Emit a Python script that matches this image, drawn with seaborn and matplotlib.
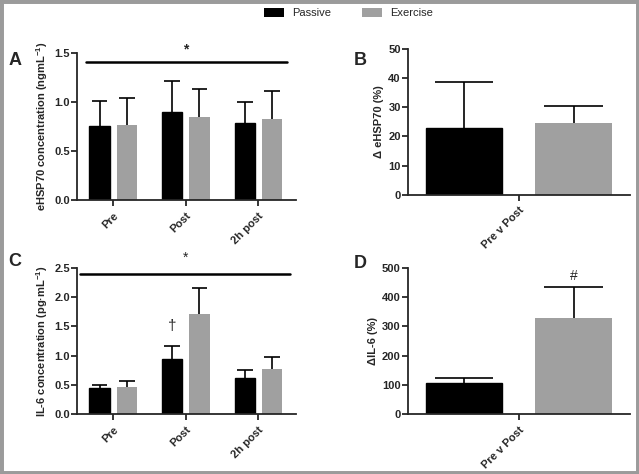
import numpy as np
import pandas as pd
import seaborn as sns
import matplotlib.pyplot as plt
import matplotlib.patches as patches
from matplotlib.patches import Patch

# Data
GROUPS = ["Passive", "Exercise"]
TIMES = ["Pre", "Post", "2h post"]
DELTA_CAT = ["Pre v Post"]
COLORS = {"Passive": "#000000", "Exercise": "#a0a0a0"}

# A: eHSP70 (ng/mL), bar means and SD (upper only)
hsp_passive = [0.76, 0.90, 0.79]
hsp_passive_sd = [0.25, 0.31, 0.21]
hsp_exercise = [0.77, 0.85, 0.83]
hsp_exercise_sd = [0.27, 0.28, 0.28]

# B: delta eHSP70 (%)
dhsp_passive = [23.0]
dhsp_passive_sd = [15.8]
dhsp_exercise = [24.5]
dhsp_exercise_sd = [5.8]

# C: IL-6 (pg/mL)
il6_passive = [0.44, 0.95, 0.62]
il6_passive_sd = [0.06, 0.21, 0.13]
il6_exercise = [0.46, 1.71, 0.77]
il6_exercise_sd = [0.10, 0.45, 0.20]

# D: delta IL-6 (%)
dil6_passive = [105]
dil6_passive_sd = [17]
dil6_exercise = [330]
dil6_exercise_sd = [105]

FS = 8


def make_df(cats, passive, exercise):
    rows = []
    for c, v in zip(cats, passive):
        rows.append({"cat": c, "group": "Passive", "value": v})
    for c, v in zip(cats, exercise):
        rows.append({"cat": c, "group": "Exercise", "value": v})
    return pd.DataFrame(rows)


def draw_panel(ax, cats, passive, p_sd, exercise, e_sd, width, gap):
    df = make_df(cats, passive, exercise)
    sns.barplot(data=df, x="cat", y="value", hue="group", hue_order=GROUPS,
                order=cats, palette=COLORS, width=width, gap=gap,
                errorbar=None, legend=False, ax=ax, saturation=1)
    # upper-only error bars
    for cont, sds in zip(ax.containers, [p_sd, e_sd]):
        xs = np.array([p.get_x() + p.get_width() / 2 for p in cont.patches])
        ys = np.array([p.get_height() for p in cont.patches])
        bw = cont.patches[0].get_width()
        ax.errorbar(xs, ys, yerr=[np.zeros(len(sds)), sds], fmt="none",
                    ecolor="black", elinewidth=1.2, capsize=0, zorder=1)
        # caps as short lines sized relative to the bar
        tops = ys + np.array(sds)
        ax.hlines(tops, xs - bw * 0.38, xs + bw * 0.38,
                  color="black", lw=1.2, zorder=1)
    for p in ax.patches:
        p.set_zorder(2)
        if p.get_facecolor()[0] > 0.1:
            p.set_linewidth(0)
        else:
            p.set_edgecolor("black")
    ax.set_xlabel("")
    sns.despine(ax=ax)
    ax.spines["left"].set_linewidth(1.3)
    ax.spines["bottom"].set_linewidth(1.3)
    ax.tick_params(axis="both", width=1.3, length=4, labelsize=FS)
    for lab in ax.get_xticklabels():
        lab.set_rotation(45)
        lab.set_ha("right")
        lab.set_rotation_mode("anchor")
        lab.set_fontweight("bold")
    ax.tick_params(axis="y", pad=1)


sns.set_style("ticks")
plt.rcParams["font.family"] = ["Liberation Sans", "DejaVu Sans"]
plt.rcParams["mathtext.fontset"] = "custom"
plt.rcParams["mathtext.bf"] = "Liberation Sans:bold"
plt.rcParams["mathtext.rm"] = "Liberation Sans"
plt.rcParams["mathtext.default"] = "bf"

fig = plt.figure(figsize=(6.39, 4.74), dpi=100)

axA = fig.add_axes([0.1205, 0.578, 0.343, 0.310])
axB = fig.add_axes([0.638, 0.589, 0.348, 0.308])
axC = fig.add_axes([0.1205, 0.1266, 0.343, 0.308])
axD = fig.add_axes([0.638, 0.1266, 0.348, 0.308])

# A
draw_panel(axA, TIMES, hsp_passive, hsp_passive_sd, hsp_exercise, hsp_exercise_sd, 0.75, 0.25)
axA.set_ylim(0, 1.5)
axA.set_xlim(-0.5, 2.52)
axA.set_yticks([0.0, 0.5, 1.0, 1.5])
axA.set_yticklabels(["0.0", "0.5", "1.0", "1.5"], fontweight="bold")
axA.set_ylabel(r"eHSP70 concentration (ngmL$^{-1}$)", fontsize=FS, fontweight="bold", labelpad=3)
axA.plot([-0.37, 2.40], [1.41, 1.41], color="black", lw=1.8, clip_on=False)
axA.text(1.0, 1.47, "*", ha="center", va="bottom", fontsize=10, fontweight="bold")

# B
draw_panel(axB, DELTA_CAT, dhsp_passive, dhsp_passive_sd, dhsp_exercise, dhsp_exercise_sd, 0.8, 0.3)
axB.set_ylim(0, 50)
axB.set_xlim(-0.407, 0.407)
axB.set_yticks([0, 10, 20, 30, 40, 50])
axB.set_yticklabels(["0", "10", "20", "30", "40", "50"], fontweight="bold")
axB.set_ylabel("Δ eHSP70 (%)", fontsize=FS, fontweight="bold", labelpad=3)

# C
draw_panel(axC, TIMES, il6_passive, il6_passive_sd, il6_exercise, il6_exercise_sd, 0.75, 0.25)
axC.set_ylim(0, 2.5)
axC.set_xlim(-0.5, 2.52)
axC.set_yticks([0.0, 0.5, 1.0, 1.5, 2.0, 2.5])
axC.set_yticklabels(["0.0", "0.5", "1.0", "1.5", "2.0", "2.5"], fontweight="bold")
axC.set_ylabel(r"IL-6 concentration (pg·mL$^{-1}$)", fontsize=FS, fontweight="bold", labelpad=3)
axC.plot([-0.46, 2.44], [2.40, 2.40], color="black", lw=1.8, clip_on=False)
axC.text(1.0, 2.55, "*", ha="center", va="bottom", fontsize=10)
axC.text(1 - 0.1875, 1.38, "†", ha="center", va="bottom", fontsize=11)

# D
draw_panel(axD, DELTA_CAT, dil6_passive, dil6_passive_sd, dil6_exercise, dil6_exercise_sd, 0.8, 0.3)
axD.set_ylim(0, 500)
axD.set_xlim(-0.407, 0.407)
axD.set_yticks([0, 100, 200, 300, 400, 500])
axD.set_yticklabels(["0", "100", "200", "300", "400", "500"], fontweight="bold")
axD.set_ylabel("ΔIL-6 (%)", fontsize=FS, fontweight="bold", labelpad=3)
axD.text(0.2, 450, "#", ha="center", va="bottom", fontsize=10)

# panel letters
for letter, (x, y) in zip("ABCD", [(0.023, 0.872), (0.563, 0.872), (0.023, 0.448), (0.563, 0.445)]):
    fig.text(x, y, letter, fontsize=13, fontweight="bold", ha="center", va="center")

# legend
handles = [Patch(facecolor=COLORS[g], edgecolor="none") for g in GROUPS]
fig.legend(handles, GROUPS, loc="center", bbox_to_anchor=(0.545, 0.972), ncol=2,
           frameon=False, fontsize=FS, handlelength=1.8, handleheight=0.9,
           columnspacing=2.8, handletextpad=0.7)

# gray frame
fig.patches.append(patches.Rectangle((0, 0), 1, 1, transform=fig.transFigure,
                                     fill=False, edgecolor="#9b9b9b", lw=5))

fig.savefig("out.png", dpi=100)
